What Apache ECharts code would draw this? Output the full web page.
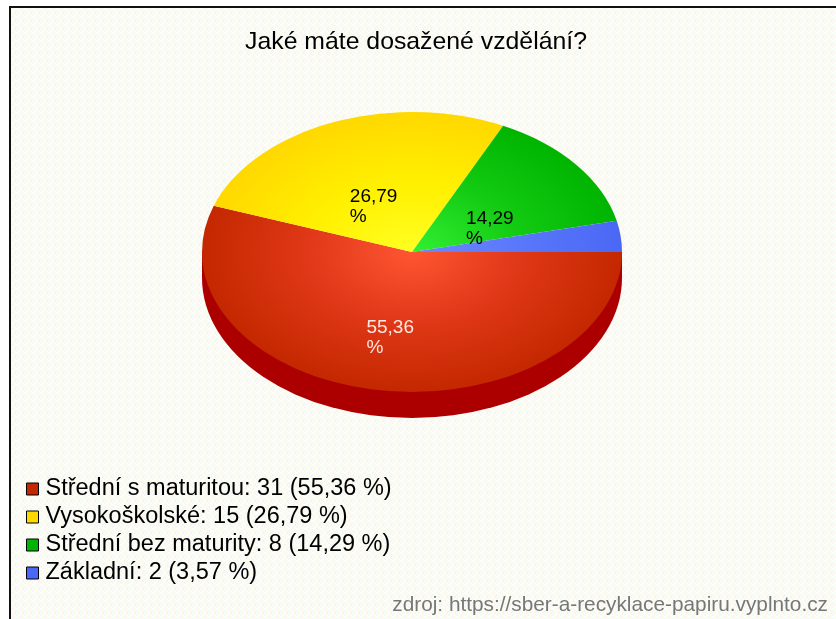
<!DOCTYPE html>
<html><head><meta charset="utf-8">
<style>html,body{margin:0;padding:0;background:#fff}#c{width:836px;height:619px;filter:blur(0.5px)}</style>
<script src="https://cdn.jsdelivr.net/npm/echarts@6/dist/echarts.min.js"></script>
</head><body><div id="c"></div>
<script>
const titleText = 'Jaké máte dosažené vzdělání?';
const sourceText = 'zdroj: https://sber-a-recyklace-papiru.vyplnto.cz';
const categories = ['Střední s maturitou', 'Vysokoškolské', 'Střední bez maturity', 'Základní'];
const counts = [31, 15, 8, 2];
const percents = ['55,36', '26,79', '14,29', '3,57'];
const sliceLabels = ['55,36\n%', '26,79\n%', '14,29\n%', ''];
const labelColors = ['#ffe8e0', '#000', '#000', '#000'];
const labelShiftX = [-28, -22, -28, 0];
const labelShiftY = [-3, -1, 0, 0];
const innerColors = ['#ff5533', '#ffff22', '#33f033', '#6a88ff'];
const middleColors = ['#e03818', '#fff000', '#14cc14', '#5a78fa'];
const outerColors = ['#c42800', '#ffd800', '#00b400', '#4a68f4'];
const swatchColors = ['#c42800', '#ffd800', '#00b400', '#4a68f4'];
const tileColors = ['#fffff4','#f4fff6','#fff2fa','#fdfdec','#f0f8ff','#ffffe8','#fbfbfb','#fff8ee','#f0fff8','#fff6f2','#ffffee','#eef6fe','#fdf2fd','#fffff6','#f6fcee','#fffaf2'];

const CX = 412, CY = 252, RX = 210, RY = 140, DEPTH = 26;
const total = counts.reduce((a, b) => a + b, 0);
const starts = [];
counts.reduce((acc, v, i) => { starts[i] = acc; return acc + v; }, 0);

const tile = document.createElement('canvas');
tile.width = tile.height = 8;
const tc = tile.getContext('2d');
for (let y = 0; y < 4; y++) for (let x = 0; x < 4; x++) {
  tc.fillStyle = tileColors[y * 4 + x];
  tc.fillRect(x * 2, y * 2, 2, 2);
}

const scaleY = RY / RX;
function renderSlice(i, params, api) {
  const a0 = starts[i] / total * Math.PI * 2;
  const a1 = a0 + api.value(0) / total * Math.PI * 2;
  const children = [];
  if (i === 0) {
    children.push({ type: 'rect', z2: 1, silent: true,
      shape: { x: CX - RX, y: CY, width: RX * 2, height: DEPTH }, style: { fill: '#ac0000' } });
    children.push({ type: 'group', x: CX, y: CY + DEPTH, scaleY, children: [
      { type: 'sector', z2: 1, shape: { cx: 0, cy: 0, r: RX, startAngle: 0, endAngle: Math.PI }, style: { fill: '#ac0000' } }
    ] });
  }
  children.push({ type: 'group', x: CX, y: CY, scaleY, children: [
    { type: 'sector', z2: 2,
      shape: { cx: 0, cy: 0, r: RX, startAngle: a0, endAngle: a1, clockwise: true },
      style: { fill: new echarts.graphic.RadialGradient(0, 0, RX, [
        { offset: 0, color: innerColors[i] }, { offset: 0.5, color: middleColors[i] }, { offset: 1, color: outerColors[i] }
      ], true) } }
  ] });
  if (sliceLabels[i]) {
    const mid = (a0 + a1) / 2;
    children.push({ type: 'text', z2: 5,
      x: CX + 0.5 * RX * Math.cos(mid) + labelShiftX[i],
      y: CY + 0.5 * RY * Math.sin(mid) + labelShiftY[i],
      style: { text: sliceLabels[i], fill: labelColors[i], font: '19px "Liberation Sans"', lineHeight: 20, align: 'left', verticalAlign: 'top' } });
  }
  return { type: 'group', children };
}

const chart = echarts.init(document.getElementById('c'), null, { renderer: 'canvas' });
chart.setOption({
  animation: false,
  backgroundColor: '#ffffff',
  title: { text: titleText, left: 411, top: 25, textAlign: 'center',
    textStyle: { color: '#000', fontFamily: 'Liberation Sans', fontSize: 24.8, fontWeight: 'normal' } },
  legend: {
    orient: 'vertical', left: 21, top: 472, itemWidth: 12, itemHeight: 12, itemGap: 4,
    selectedMode: false,
    data: categories.map((name, i) => ({ name, icon: 'rect',
      itemStyle: { color: swatchColors[i], borderColor: '#000', borderWidth: 1 } })),
    formatter: name => { const i = categories.indexOf(name); return `${name}: ${counts[i]} (${percents[i]} %)`; },
    textStyle: { color: '#000', fontFamily: 'Liberation Sans', fontSize: 23.5, height: 22, lineHeight: 22, padding: [0, 0, 0, 2] }
  },
  graphic: [
    { type: 'rect', z: -10, silent: true, shape: { x: 10, y: 7, width: 830, height: 620 },
      style: { fill: { image: tile, repeat: 'repeat' } } },
    { type: 'line', z: -9, silent: true, shape: { x1: 10, y1: 7, x2: 10, y2: 619 }, style: { stroke: '#111', lineWidth: 2 } },
    { type: 'line', z: -9, silent: true, shape: { x1: 9, y1: 7, x2: 836, y2: 7 }, style: { stroke: '#111', lineWidth: 2 } },
    { type: 'text', z: 5, silent: true, x: 828, y: 605,
      style: { text: sourceText, fill: '#777', font: '20.8px "Liberation Sans"', align: 'right', verticalAlign: 'middle' } }
  ],
  series: categories.map((name, i) => ({
    type: 'custom', name, coordinateSystem: 'none', silent: true,
    itemStyle: { color: swatchColors[i] },
    data: [counts[i]],
    renderItem: (p, api) => renderSlice(i, p, api)
  }))
});
</script></body></html>
